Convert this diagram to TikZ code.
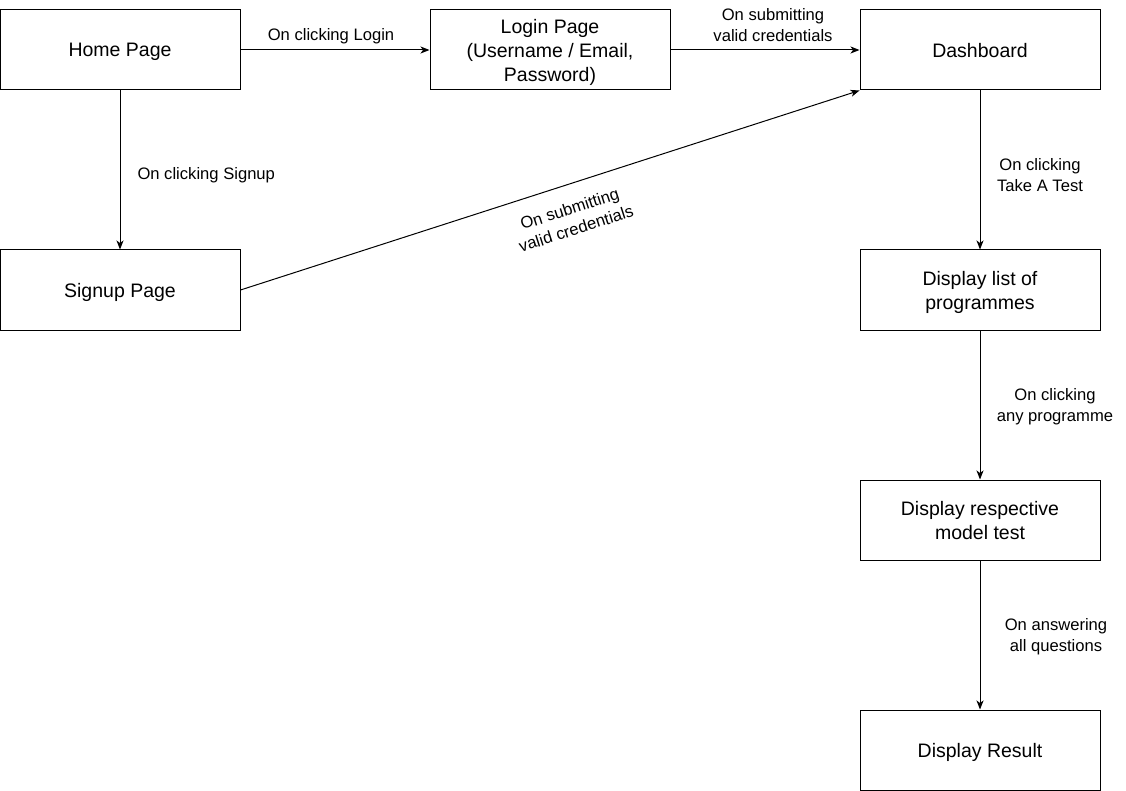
\documentclass[tikz,border=0pt]{standalone}
\usepackage{fontspec}
\setmainfont{Liberation Sans}
\usetikzlibrary{arrows.meta}
\begin{document}
\begin{tikzpicture}[x=1pt,y=-1pt,
  stepbox/.style={draw, line width=1pt, minimum width=240pt, minimum height=80pt,
    inner sep=0pt, text depth=0pt, align=center, font=\fontsize{19.5}{24}\selectfont},
  flow/.style={line width=1pt, -{Stealth[length=9pt,width=7pt,inset=2.5pt]}},
  lbl/.style={font=\fontsize{16.6}{21}\selectfont, align=center, inner sep=0pt}]
\useasboundingbox (0,0) rectangle (1126,791);

% screens
\node[stepbox] (home)   at (120,50)  {Home Page};
\node[stepbox] (login)  at (550,50)  {Login Page\\(Username / Email,\\Password)};
\node[stepbox] (dash)   at (980,50)  {Dashboard};
\node[stepbox] (signup) at (120,290) {Signup Page};
\node[stepbox] (list)   at (980,290) {Display list of\\programmes};
\node[stepbox] (test)   at (980,520) {Display respective\\model test};
\node[stepbox] (result) at (980,750) {Display Result};

% transitions
\draw[flow] (home) -- node[lbl, above=6pt, xshift=-4pt] {On clicking Login} (login);
\draw[flow] (login) -- node[lbl, above=8pt, xshift=8pt] {On submitting\\valid credentials} (dash);
\draw[flow] (home) -- node[lbl, right=17pt, yshift=-5pt] {On clicking Signup} (signup);
\draw[flow] (signup.east) -- node[lbl, pos=0.52, sloped, yshift=-34pt] {On submitting\\valid credentials} (dash.south west);
\draw[flow] (dash) -- node[lbl, xshift=60pt, yshift=-5pt] {On clicking\\Take A Test} (list);
\draw[flow] (list) -- node[lbl, xshift=75pt, yshift=-2pt] {On clicking\\any programme} (test);
\draw[flow] (test) -- node[lbl, xshift=76pt, yshift=-2pt] {On answering\\all questions} (result);
\end{tikzpicture}
\end{document}
